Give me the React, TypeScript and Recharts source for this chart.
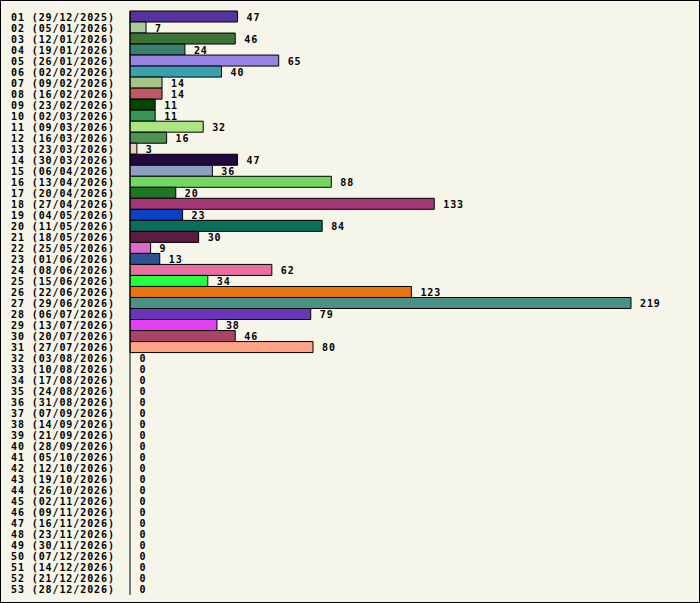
import React from 'react';
import { BarChart, Bar, XAxis, YAxis, Cell, LabelList } from 'recharts';

const weeks = [
  '01 (29/12/2025)', '02 (05/01/2026)', '03 (12/01/2026)', '04 (19/01/2026)', '05 (26/01/2026)',
  '06 (02/02/2026)', '07 (09/02/2026)', '08 (16/02/2026)', '09 (23/02/2026)', '10 (02/03/2026)',
  '11 (09/03/2026)', '12 (16/03/2026)', '13 (23/03/2026)', '14 (30/03/2026)', '15 (06/04/2026)',
  '16 (13/04/2026)', '17 (20/04/2026)', '18 (27/04/2026)', '19 (04/05/2026)', '20 (11/05/2026)',
  '21 (18/05/2026)', '22 (25/05/2026)', '23 (01/06/2026)', '24 (08/06/2026)', '25 (15/06/2026)',
  '26 (22/06/2026)', '27 (29/06/2026)', '28 (06/07/2026)', '29 (13/07/2026)', '30 (20/07/2026)',
  '31 (27/07/2026)', '32 (03/08/2026)', '33 (10/08/2026)', '34 (17/08/2026)', '35 (24/08/2026)',
  '36 (31/08/2026)', '37 (07/09/2026)', '38 (14/09/2026)', '39 (21/09/2026)', '40 (28/09/2026)',
  '41 (05/10/2026)', '42 (12/10/2026)', '43 (19/10/2026)', '44 (26/10/2026)', '45 (02/11/2026)',
  '46 (09/11/2026)', '47 (16/11/2026)', '48 (23/11/2026)', '49 (30/11/2026)', '50 (07/12/2026)',
  '51 (14/12/2026)', '52 (21/12/2026)', '53 (28/12/2026)',
];

const counts = [
  47, 7, 46, 24, 65, 40, 14, 14, 11, 11,
  32, 16, 3, 47, 36, 88, 20, 133, 23, 84,
  30, 9, 13, 62, 34, 123, 219, 79, 38, 46,
  80, 0, 0, 0, 0, 0, 0, 0, 0, 0,
  0, 0, 0, 0, 0, 0, 0, 0, 0, 0,
  0, 0, 0,
];

const colors = [
  '#5733a0', '#aacb9c', '#3d7335', '#3a8070', '#9885e3', '#39a0ac', '#a2c484', '#be5866', '#004600', '#379657',
  '#ace581', '#4d9250', '#ebcdbf', '#200942', '#8f9fc4', '#72d761', '#1f7726', '#a33773', '#0a40c6', '#0a6e58',
  '#5b1c3f', '#df69c9', '#2d5193', '#e870a0', '#26ff40', '#e87513', '#4a9186', '#6b37b9', '#e73df1', '#a84465',
  '#ffa285',
];

const data = weeks.map((week, i) => ({ week, count: counts[i], color: colors[i] || 'none' }));

const FONT = '"DejaVu Sans Mono", monospace';

const WeekTick = (props: any) => {
  const { y, payload } = props;
  return (
    <text x={10} y={y} dy={4} textAnchor="start" fontFamily={FONT} fontSize={10} letterSpacing={0.9} fontWeight="bold" fill="#000">
      {payload.value}
    </text>
  );
};

// draws the count just right of the bar end (also for empty weeks)
const ValueLabel = (props: any) => {
  const { x, y, width, height, value } = props;
  return (
    <text
      x={Number(x) + Number(width || 0) + 9}
      y={Number(y) + Number(height) / 2}
      dy={4}
      textAnchor="start"
      fontFamily={FONT}
      fontSize={10}
      letterSpacing={0.9}
      fontWeight="bold"
      fill="#000"
    >
      {value}
    </text>
  );
};

export default function App() {
  return (
    <div>
      <style>{'body{margin:0}'}</style>
      <div
        style={{
          width: 700,
          height: 603,
          boxSizing: 'border-box',
          border: '1px solid #000',
          background: '#f5f5e9',
        }}
      >
        <BarChart
          width={698}
          height={601}
          data={data}
          layout="vertical"
          margin={{ top: 10, right: 68, bottom: 7, left: 0 }}
          barCategoryGap={0}
        >
          <XAxis type="number" domain={[0, 219]} hide />
          <YAxis
            type="category"
            dataKey="week"
            width={129}
            interval={0}
            tickLine={false}
            axisLine={{ stroke: '#000' }}
            tick={<WeekTick />}
          />
          <Bar dataKey="count" strokeWidth={1} minPointSize={0.5} isAnimationActive={false}>
            {data.map((d, i) => (
              <Cell key={`cell-${i}`} fill={d.color} stroke={d.count > 0 ? '#000' : 'none'} />
            ))}
            <LabelList dataKey="count" content={<ValueLabel />} />
          </Bar>
        </BarChart>
      </div>
    </div>
  );
}
